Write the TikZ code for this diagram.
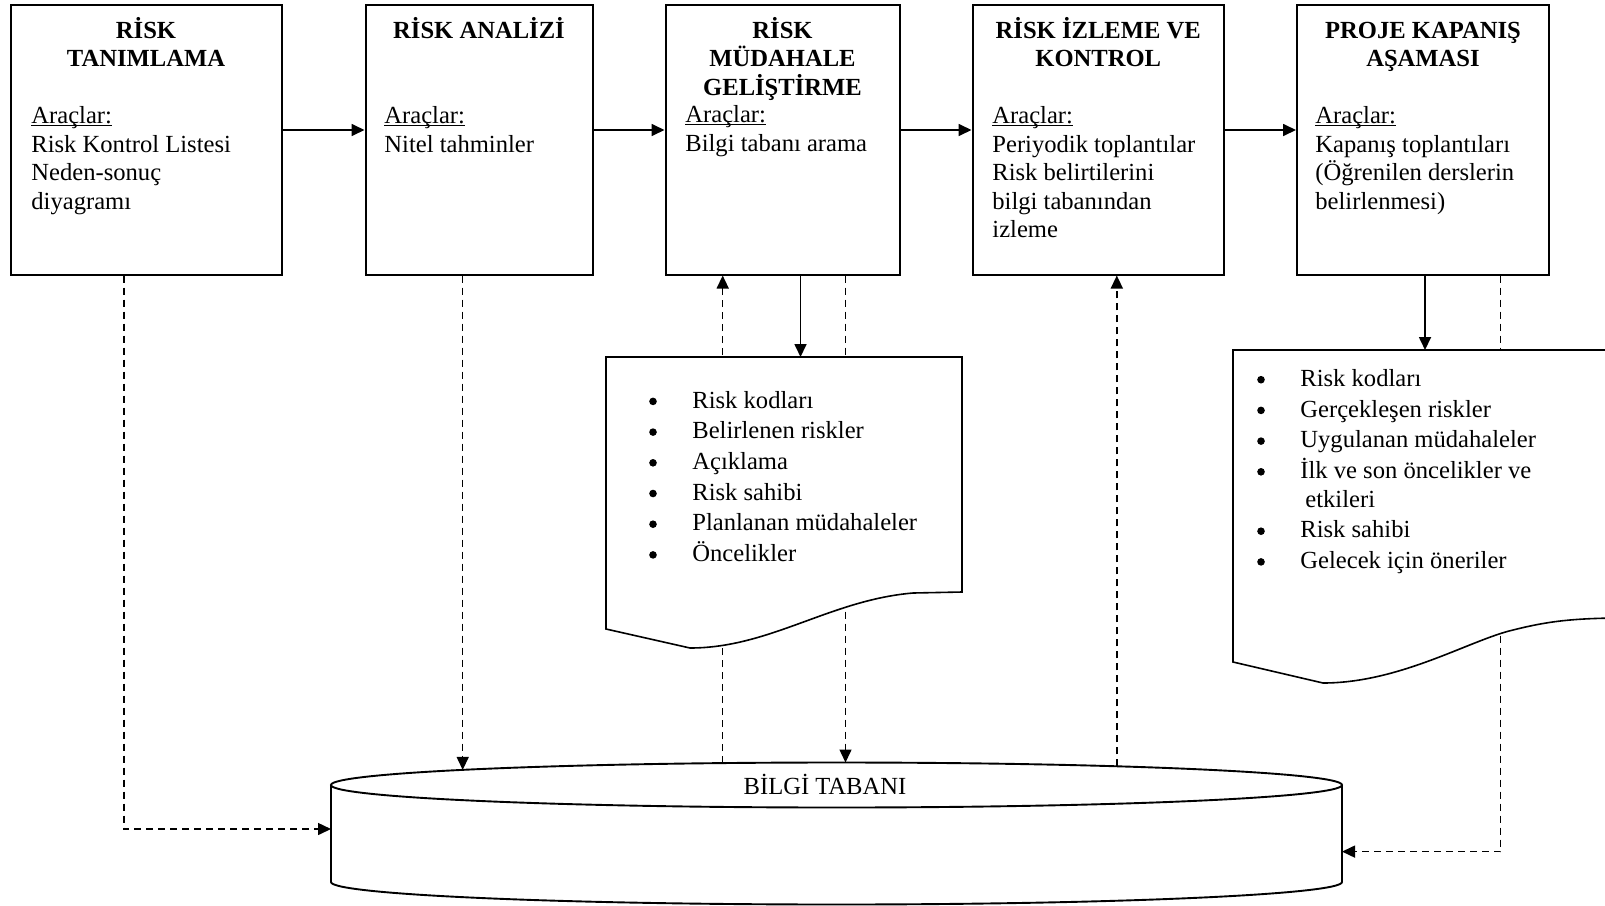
\documentclass[tikz,border=0pt]{standalone}
\usepackage{fontspec}
\setmainfont{Liberation Serif}
\usetikzlibrary{arrows.meta,calc}
\newcommand{\undl}[1]{\setbox0\hbox{#1}\rlap{\rule[-1.3pt]{\wd0}{0.55pt}}\box0}
\newcommand{\bul}{\makebox[22pt][l]{\hspace*{0.4pt}\raisebox{1.4pt}{\tikz\fill (0,0) circle (1.9pt);}}}
\begin{document}
\begin{tikzpicture}[x=0.5pt,y=-0.5pt,
  box/.style={draw, line width=1pt, inner sep=0pt, fill=white},
  ttl/.style={font=\fontsize{12.3}{14.25}\selectfont\bfseries, align=center, inner sep=0pt, anchor=base},
  body/.style={font=\fontsize{12.3}{14.25}\selectfont, align=left, inner sep=0pt, anchor=base west},
  lst/.style={font=\fontsize{12.3}{15.35}\selectfont, align=left, inner sep=0pt, anchor=base west},
  flow/.style={line width=0.85pt, -{Triangle[length=6.5pt,width=6pt]}},
  dflow/.style={line width=0.75pt, dash pattern=on 3.5pt off 2.5pt, -{Triangle[length=6.5pt,width=6pt]}},
  docshape/.style={draw, line width=0.8pt, fill=white},
  cyl/.style={draw, line width=0.95pt, fill=white}
]
\useasboundingbox (0,0) rectangle (1605,905);
\clip (0,0) rectangle (1605,905);
\fill[white] (0,0) rectangle (1605,905);

% boxes
\node[box, minimum width=135.5pt, minimum height=134.75pt] (b1) at (146,139.75) {};
\node[box, minimum width=113.5pt, minimum height=134.75pt] (b2) at (479,139.75) {};
\node[box, minimum width=117pt, minimum height=134.75pt] (b3) at (782.5,139.75) {};
\node[box, minimum width=125.75pt, minimum height=134.75pt] (b4) at (1098.25,139.75) {};
\node[box, minimum width=126pt, minimum height=134.75pt] (b5) at (1423,139.75) {};

% box texts (anchor base = baseline of the last line)
\node[ttl] (t1) at (146,66.5) {RİSK\\TANIMLAMA};
\node[body] (a1) at (31,209) {\undl{Araçlar:}\\Risk Kontrol Listesi\\Neden-sonuç\\diyagramı};
\node[ttl] (t2) at (479,38) {RİSK ANALİZİ};
\node[body] (a2) at (384,152) {\undl{Araçlar:}\\Nitel tahminler};
\node[ttl] (t3) at (782.5,95) {RİSK\\MÜDAHALE\\GELİŞTİRME};
\node[body] (a3) at (685,151) {\undl{Araçlar:}\\Bilgi tabanı arama};
\node[ttl] (t4) at (1098.25,66.5) {RİSK İZLEME VE\\KONTROL};
\node[body] (a4) at (992,237.5) {\undl{Araçlar:}\\Periyodik toplantılar\\Risk belirtilerini\\bilgi tabanından\\izleme};
\node[ttl] (t5) at (1423,66.5) {PROJE KAPANIŞ\\AŞAMASI};
\node[body] (a5) at (1315,209) {\undl{Araçlar:}\\Kapanış toplantıları\\(Öğrenilen derslerin\\belirlenmesi)};

% horizontal flow
\coordinate (yarr) at (0,130);
\draw[flow] (b1.east |- yarr) -- (b2.west |- yarr);
\draw[flow] (b2.east |- yarr) -- (b3.west |- yarr);
\draw[flow] (b3.east |- yarr) -- (b4.west |- yarr);
\draw[flow] (b4.east |- yarr) -- (b5.west |- yarr);

% coordinates on the knowledge base
\coordinate (kb2) at (462.7,769.9);
\coordinate (kb3u) at (722.7,763.1);
\coordinate (kb3d) at (845.5,762.5);
\coordinate (kb4) at (1116.8,766.3);
\coordinate (kbL) at (331,829);
\coordinate (c1) at (123.9,829);
\coordinate (kbR) at (1342,851.6);
\coordinate (c5) at (1500.6,851.6);

% dashed connectors
\draw[dflow] (b1.south -| c1) -- (c1) -- (kbL);
\draw[dflow] (b2.south -| kb2) -- (kb2);
\draw[dflow] (kb3u) -- (b3.south -| kb3u);
\draw[dflow] (b3.south -| kb3d) -- (kb3d);
\draw[dflow] (kb4) -- (b4.south -| kb4);
\draw[dflow] (b5.south -| c5) -- (c5) -- (kbR);

% documents
\coordinate (d1top) at (800.5,357);
\coordinate (d2top) at (1425,350);
\draw[docshape] (606,357) -- (962,357) -- (962,592) -- (913,593)
  .. controls (830,600) and (770,648) .. (690,648) -- (606,629) -- cycle;
\draw[docshape] (1233,350) -- (1625,350) -- (1625,618)
  .. controls (1570,618) and (1545,622) .. (1513,630)
  .. controls (1470,640) and (1400,683) .. (1323,683) -- (1233,662) -- cycle;
\draw[flow] (b3.south -| d1top) -- (d1top);
\draw[flow] (b5.south -| d2top) -- (d2top);

\node[lst] (l1) at (648,561.5) {\bul Risk kodları\\
\bul Belirlenen riskler\\
\bul Açıklama\\
\bul Risk sahibi\\
\bul Planlanan müdahaleler\\
\bul Öncelikler};
\node[lst] (l2) at (1256,568.5) {\bul Risk kodları\\
\bul Gerçekleşen riskler\\
\bul Uygulanan müdahaleler\\
\bul İlk ve son öncelikler ve\\[-1pt]
\hspace*{24.5pt}etkileri\\
\bul Risk sahibi\\
\bul Gelecek için öneriler};

% knowledge base cylinder
\draw[cyl] (331,785) -- (331,882) arc[start angle=180, end angle=360, x radius=252.75pt, y radius=11.25pt] -- (1342,785);
\draw[cyl] (836.5,785) ellipse [x radius=252.75pt, y radius=11.25pt];
\node[font=\fontsize{12.3}{14.25}\selectfont, inner sep=0pt, anchor=base] (kb) at (825,794) {BİLGİ TABANI};
\end{tikzpicture}
\end{document}
